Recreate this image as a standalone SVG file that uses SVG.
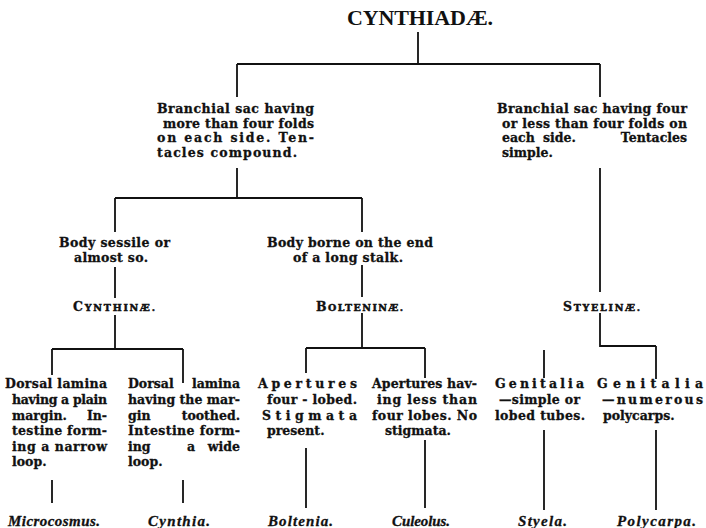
<svg xmlns="http://www.w3.org/2000/svg" width="706" height="528" viewBox="0 0 706 528">
<style>
.t{font-family:"DejaVu Serif","Liberation Serif",serif;font-weight:bold;font-size:12.5px;fill:#111;stroke:#111;stroke-width:0.3}
.s{font-size:9.5px;stroke-width:0.5}
.e{text-anchor:end}
.g{font-family:"Liberation Serif",serif;font-style:italic;font-weight:bold;font-size:15px;fill:#111;stroke:#111;stroke-width:0.3}
.ttl{font-family:"Liberation Serif",serif;font-weight:bold;font-size:22px;fill:#111}
#connectors path{stroke:#111;stroke-width:1.8;fill:none}
</style>
<rect width="706" height="528" fill="#fff"/>
<g id="connectors">
<path d="M418 32V64M237 64H600M237 64V97M600 64V97"/>
<path d="M237 168V198M115 198H362M115 198V232M362 198V232"/>
<path d="M115 267V298M362 265V297M115 315V349M362 313V348"/>
<path d="M52 349H183M52 349V375M183 349V383M306 348H425M306 348V373M425 348V378"/>
<path d="M52 480V503M183 480V503M306 448V508M425 440V508"/>
<path d="M600 168V292M600 313V347M600 346H656M544 350V378M656 346V379M544 430V510M656 430V510"/>
</g>
<g id="title"><text class="ttl" x="347" y="25" textLength="146">CYNTHIADÆ.</text></g>
<g id="branchial-more">
<text class="t" x="157" y="113" textLength="157">Branchial sac having</text>
<text class="t" x="163" y="127.5" textLength="151">more than four folds</text>
<text class="t" x="157" y="142" textLength="157">on each side. Ten-</text>
<text class="t" x="157" y="156.5" textLength="140">tacles compound.</text>
</g>
<g id="branchial-less">
<text class="t" x="497" y="113" textLength="190">Branchial sac having four</text>
<text class="t" x="502" y="127.5" textLength="185">or less than four folds on</text>
<text class="t" y="142"><tspan x="502">each</tspan> <tspan x="543">side.</tspan> <tspan class="e" x="687">Tentacles</tspan></text>
<text class="t" x="502" y="156.5">simple.</text>
</g>
<g id="body-sessile">
<text class="t" x="59" y="247" textLength="111">Body sessile or</text>
<text class="t" x="74" y="262" textLength="74">almost so.</text>
</g>
<g id="body-stalk">
<text class="t" x="267" y="247" textLength="166">Body borne on the end</text>
<text class="t" x="293" y="262" textLength="110">of a long stalk.</text>
</g>
<g id="cynthinae"><text class="t" x="73" y="311" textLength="82">C<tspan class="s">YNTHINÆ.</tspan></text></g>
<g id="boltenine"><text class="t" x="316" y="311" textLength="87">B<tspan class="s">OLTENINÆ.</tspan></text></g>
<g id="styelinae"><text class="t" x="563" y="311" textLength="77">S<tspan class="s">TYELINÆ.</tspan></text></g>
<g id="dorsal-plain">
<text class="t" x="5" y="388" textLength="102">Dorsal lamina</text>
<text class="t" x="12" y="404" textLength="95">having a plain</text>
<text class="t" y="419.5"><tspan x="12">margin.</tspan> <tspan class="e" x="107">In-</tspan></text>
<text class="t" x="12" y="434.5" textLength="95">testine form-</text>
<text class="t" x="12" y="450.5" textLength="95">ing a narrow</text>
<text class="t" x="12" y="466">loop.</text>
</g>
<g id="dorsal-toothed">
<text class="t" y="388"><tspan x="128">Dorsal</tspan> <tspan class="e" x="240">lamina</tspan></text>
<text class="t" x="128" y="404" textLength="112">having the mar-</text>
<text class="t" y="419.5"><tspan x="128">gin</tspan> <tspan class="e" x="240">toothed.</tspan></text>
<text class="t" x="128" y="434.5" textLength="112">Intestine form-</text>
<text class="t" y="450.5"><tspan x="128">ing</tspan> <tspan x="187">a</tspan> <tspan class="e" x="240">wide</tspan></text>
<text class="t" x="128" y="466">loop.</text>
</g>
<g id="apertures-four">
<text class="t" x="258" y="388" textLength="99">Apertures</text>
<text class="t" x="267" y="404" textLength="90">four - lobed.</text>
<text class="t" x="262" y="419.5" textLength="95">Stigmata</text>
<text class="t" x="267" y="434.5">present.</text>
</g>
<g id="apertures-less">
<text class="t" x="372" y="388" textLength="105">Apertures hav-</text>
<text class="t" x="377" y="404" textLength="100">ing less than</text>
<text class="t" x="372" y="419.5" textLength="105">four lobes. No</text>
<text class="t" x="385" y="434.5">stigmata.</text>
</g>
<g id="genitalia-simple">
<text class="t" x="495" y="388" textLength="89">Genitalia</text>
<text class="t" x="499" y="404" textLength="81">—simple or</text>
<text class="t" x="495" y="419.5" textLength="90">lobed tubes.</text>
</g>
<g id="genitalia-numerous">
<text class="t" x="597" y="388" textLength="106">Genitalia</text>
<text class="t" x="602" y="404" textLength="101">—numerous</text>
<text class="t" x="603" y="419.5">polycarps.</text>
</g>
<g id="microcosmus"><text class="g" x="8" y="526" textLength="92">Microcosmus.</text></g>
<g id="cynthia"><text class="g" x="148" y="526" textLength="62">Cynthia.</text></g>
<g id="boltenia"><text class="g" x="268" y="526" textLength="65">Boltenia.</text></g>
<g id="culeolus"><text class="g" x="392" y="526" textLength="58">Culeolus.</text></g>
<g id="styela"><text class="g" x="518" y="526" textLength="49">Styela.</text></g>
<g id="polycarpa"><text class="g" x="617" y="526" textLength="79">Polycarpa.</text></g>
</svg>
